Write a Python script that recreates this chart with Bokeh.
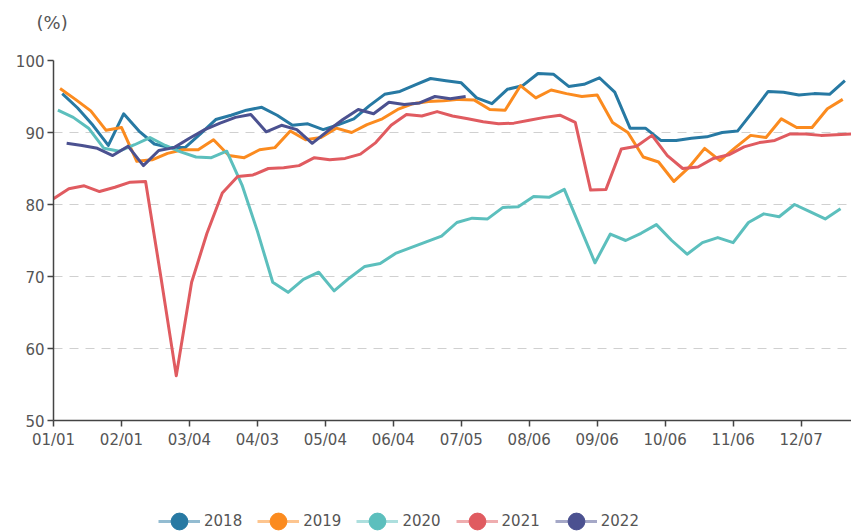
from bokeh.plotting import figure
from bokeh.layouts import column
from bokeh.models import Range1d, FixedTicker, Legend, LegendItem, Label
from bokeh.embed import file_html
from bokeh.resources import INLINE

# Weekly (Friday) observations; first Friday as day-of-year offset
years = ["2018", "2019", "2020", "2021", "2022"]
first_day = [4, 3, 2, 0, 6]
colors = ["#2779a3", "#fb8b1f", "#5cbfbd", "#e05b60", "#4b5190"]

v2018 = [95.4, 93.4, 91.0, 88.2, 92.6, 90.2, 88.4, 87.9, 87.9, 89.8, 91.8, 92.4, 93.1,
         93.5, 92.4, 91.0, 91.2, 90.4, 91.1, 91.9, 93.7, 95.3, 95.7, 96.6, 97.5, 97.2,
         96.9, 94.8, 94.0, 96.0, 96.5, 98.2, 98.1, 96.4, 96.7, 97.6, 95.6, 90.6, 90.6,
         88.9, 88.9, 89.2, 89.4, 90.0, 90.2, 92.9, 95.7, 95.6, 95.2, 95.4, 95.3, 97.2]
v2019 = [96.1, 94.6, 93.0, 90.3, 90.7, 86.0, 86.2, 87.1, 87.6, 87.6, 89.0, 86.8, 86.5,
         87.6, 87.9, 90.2, 89.0, 89.3, 90.6, 90.0, 91.1, 91.9, 93.2, 94.0, 94.3, 94.4,
         94.6, 94.5, 93.2, 93.1, 96.5, 94.8, 95.9, 95.4, 95.0, 95.2, 91.4, 90.0, 86.6,
         85.9, 83.2, 85.2, 87.8, 86.1, 87.9, 89.6, 89.3, 91.9, 90.7, 90.7, 93.3, 94.6]
v2020 = [93.1, 92.1, 90.6, 87.8, 87.4, 88.3, 89.3, 88.2, 87.3, 86.6, 86.5, 87.4, 82.7,
         76.3, 69.2, 67.8, 69.6, 70.6, 68.0, 69.8, 71.4, 71.8, 73.2, 74.0, 74.8, 75.6,
         77.5, 78.1, 78.0, 79.6, 79.7, 81.1, 81.0, 82.1, 77.0, 71.9, 75.9, 75.0, 76.0,
         77.2, 75.0, 73.1, 74.7, 75.4, 74.7, 77.5, 78.7, 78.3, 80.0, 79.0, 78.0, 79.4]
v2021 = [80.8, 82.2, 82.6, 81.8, 82.4, 83.1, 83.2, 69.9, 56.2, 69.2, 76.0, 81.6, 83.9,
         84.1, 85.0, 85.1, 85.4, 86.5, 86.2, 86.4, 87.0, 88.6, 91.0, 92.5, 92.3, 92.9,
         92.3, 91.9, 91.5, 91.2, 91.3, 91.7, 92.1, 92.4, 91.4, 82.0, 82.1, 87.7, 88.1,
         89.6, 86.8, 85.0, 85.2, 86.4, 86.9, 88.0, 88.6, 88.9, 89.8, 89.8, 89.6, 89.7, 89.8]
v2022 = [88.5, 88.2, 87.8, 86.8, 88.1, 85.4, 87.5, 87.9, 89.2, 90.4, 91.3, 92.1, 92.5,
         90.1, 91.0, 90.4, 88.5, 90.2, 91.8, 93.2, 92.6, 94.2, 93.9, 94.1, 95.0, 94.7, 95.0]
series = [v2018, v2019, v2020, v2021, v2022]

tick_days = [0, 31, 62, 93, 124, 155, 186, 217, 248, 279, 310, 341]
tick_labels = ["01/01", "02/01", "03/04", "04/03", "05/04", "06/04",
               "07/05", "08/06", "09/06", "10/06", "11/06", "12/07"]
y_ticks = [50, 60, 70, 80, 90, 100]
unit_label = "(%)"

FONT = "DejaVu Sans"
TXT = "#555555"

def blank(h):
    f = figure(width=851, height=h, output_backend="svg", toolbar_location=None,
               x_range=Range1d(0, 1), y_range=Range1d(0, 1),
               x_axis_type=None, y_axis_type=None,
               min_border_left=0, min_border_right=0, min_border_top=0,
               min_border_bottom=0)
    f.outline_line_color = None
    f.grid.visible = False
    f.frame_align = False
    return f

# top strip with the unit label
pt = blank(40)
pt.add_layout(Label(x=36, y=18, x_units="screen", y_units="screen", text=unit_label,
                    text_font=FONT, text_font_size="18px", text_color=TXT,
                    text_baseline="middle"))

p = figure(width=851, height=420, output_backend="svg", toolbar_location=None,
           x_range=Range1d(0, 364), y_range=Range1d(50, 100),
           min_border_left=53, min_border_right=0, min_border_top=20,
           min_border_bottom=40)
p.outline_line_color = None
p.frame_align = False

p.xgrid.visible = False
p.ygrid.grid_line_color = "#d0d0d0"
p.ygrid.grid_line_dash = "9 7"
p.ygrid.grid_line_width = 1

p.xaxis.ticker = FixedTicker(ticks=tick_days)
p.xaxis.major_label_overrides = {d: l for d, l in zip(tick_days, tick_labels)}
p.yaxis.ticker = FixedTicker(ticks=y_ticks)
for ax in (p.xaxis, p.yaxis):
    ax.axis_line_color = "#444444"
    ax.axis_line_width = 1.5
    ax.major_tick_line_color = "#444444"
    ax.major_tick_line_width = 1.5
    ax.major_tick_in = 0
    ax.major_tick_out = 6
    ax.minor_tick_line_color = None
    ax.major_label_text_font = FONT
    ax.major_label_text_font_size = "15px"
    ax.major_label_text_color = TXT
p.xaxis.major_label_standoff = 4
p.yaxis.major_label_standoff = 3

# legend strip (its glyph renderers sit outside its view)
pl = blank(72)

items = []
for yr, fd, col, vals in zip(years, first_day, colors, series):
    xs = [fd + 7 * i for i in range(len(vals))]
    p.line(xs, vals, line_color=col, line_width=3, line_join="round")
    lg_line = pl.line(xs[:2], vals[:2], line_color=col, line_width=3, line_alpha=0.5)
    lg_dot = pl.scatter(xs[:1], vals[:1], marker="circle", size=17,
                        fill_color=col, line_color=col)
    items.append(LegendItem(label=yr, renderers=[lg_line, lg_dot]))

legend = Legend(items=items, orientation="horizontal", location=(158, -10),
                glyph_width=42, glyph_height=42, label_height=42, label_standoff=4,
                spacing=15, padding=0, margin=0, border_line_color=None,
                background_fill_alpha=0,
                label_text_font=FONT, label_text_font_size="15px",
                label_text_color=TXT)
pl.add_layout(legend, "center")

layout = column(pt, p, pl, spacing=0)
open("out.html", "w").write(file_html(layout, INLINE))
